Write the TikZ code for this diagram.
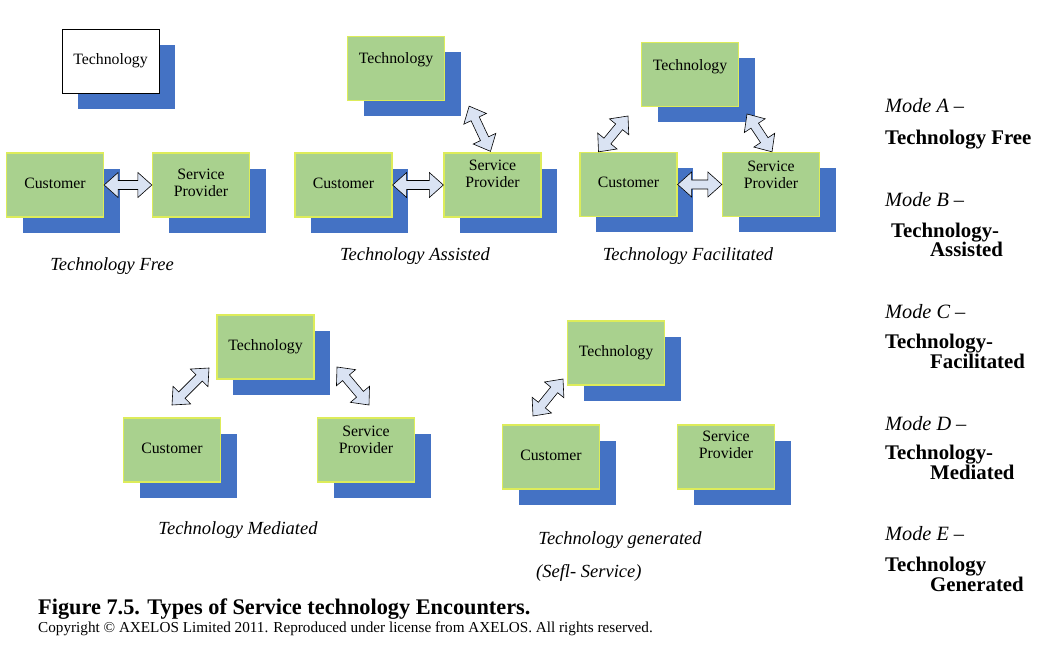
\documentclass[tikz,border=0pt]{standalone}
\usepackage{fontspec}
\setmainfont{Liberation Serif}
\usetikzlibrary{calc,shadows}
\definecolor{boxgreen}{RGB}{169,209,142}
\definecolor{boxedge}{RGB}{221,236,90}
\definecolor{shadowblue}{RGB}{68,114,196}
\definecolor{arrowfill}{RGB}{218,227,243}
\newcommand\boxlbl[2]{\raisebox{#1}[\height][\depth]{\begin{tabular}{@{}c@{}}#2\end{tabular}}}
\newcommand\twolines[3]{\vbox{\lineskiplimit=-20pt\baselineskip=19.6pt\hbox{#2}\hbox{\kern#1#3}}}
\newcommand\dblblock[2]{%
  \coordinate (dbP) at ($(#1)!14pt!(#2)$);
  \coordinate (dbQ) at ($(#2)!14pt!(#1)$);
  \filldraw[blockarrow] (#1) -- ($(dbP)!12.5pt!90:(#2)$) -- ($(dbP)!4.5pt!90:(#2)$)
    -- ($(dbQ)!4.5pt!-90:(#1)$) -- ($(dbQ)!12.5pt!-90:(#1)$) -- (#2)
    -- ($(dbQ)!12.5pt!90:(#1)$) -- ($(dbQ)!4.5pt!90:(#1)$)
    -- ($(dbP)!4.5pt!-90:(#2)$) -- ($(dbP)!12.5pt!-90:(#2)$) -- cycle;}
\tikzset{
  basebox/.style={minimum width=97pt, minimum height=64pt, inner sep=0pt,
    font=\fontsize{15.8}{17}\selectfont,
    general shadow={fill=shadowblue, shadow xshift=16pt, shadow yshift=-16pt}},
  gbox/.style={basebox, draw=boxedge, line width=1.3pt, fill=boxgreen},
  wbox/.style={basebox, draw=black, line width=0.8pt, fill=white},
  blockarrow/.style={fill=arrowfill, draw=black, line width=0.6pt, line join=miter},
  caption/.style={inner sep=0pt, font=\fontsize{18.5}{20}\selectfont\itshape},
  modeit/.style={anchor=base west, inner sep=0pt, font=\fontsize{20.3}{22}\selectfont\itshape},
  modebf/.style={anchor=base west, inner sep=0pt, font=\fontsize{20.8}{22}\selectfont\bfseries},
}
\begin{document}
\begin{tikzpicture}[x=1pt,y=-1pt]
\useasboundingbox (0,0) rectangle (1046,668);
% ---- Mode A
\node[wbox] (techA) at (110.5,61.5) {\boxlbl{0pt}{Technology}};
\node[gbox] (custA) at (55,185) {\boxlbl{0pt}{Customer}};
\node[gbox] (spA) at (201,185) {\boxlbl{0pt}{Service\\Provider}};
\dblblock{custA.east}{spA.west}
\node[caption] (capA) at (112,266) {Technology Free};
% ---- Mode B
\node[gbox] (techB) at (396,68.5) {\boxlbl{8pt}{Technology}};
\node[gbox] (custB) at (343.5,185) {\boxlbl{0pt}{Customer}};
\node[gbox] (spB) at (492.5,185) {\boxlbl{9pt}{Service\\Provider}};
\dblblock{custB.east}{spB.west}
\coordinate (bT) at ($(techB.south east)+(24,5)$);
\coordinate (bS) at ($(spB.north)+(-2,-1)$);
\dblblock{bT}{bS}
\node[caption] (capB) at (415,256) {Technology Assisted};
% ---- Mode C
\node[gbox] (techC) at (690,74.5) {\boxlbl{7pt}{Technology}};
\node[gbox] (custC) at (628.5,184.5) {\boxlbl{0pt}{Customer}};
\node[gbox] (spC) at (771,184.5) {\boxlbl{8pt}{Service\\Provider}};
\dblblock{custC.east}{spC.west}
\coordinate (cC) at ($(custC.north)+(-30,0)$);
\coordinate (cT1) at (628,116);
\dblblock{cC}{cT1}
\coordinate (cT2) at (747,114);
\coordinate (cS) at ($(spC.north)+(1,0)$);
\dblblock{cT2}{cS}
\node[caption] (capC) at (688,256) {Technology Facilitated};
% ---- Mode D
\node[gbox] (techD) at (265.5,347) {\boxlbl{0pt}{Technology}};
\node[gbox] (custD) at (172,450) {\boxlbl{0pt}{Customer}};
\node[gbox] (spD) at (366,450) {\boxlbl{8pt}{Service\\Provider}};
\coordinate (dC) at (172,405);
\coordinate (dT1) at (209,368);
\dblblock{dC}{dT1}
\coordinate (dT2) at (337,367);
\coordinate (dS) at (369,405);
\dblblock{dT2}{dS}
\node[caption] (capD) at (238,530) {Technology Mediated};
% ---- Mode E
\node[gbox] (techE) at (616,353) {\boxlbl{0pt}{Technology}};
\node[gbox] (custE) at (551,457) {\boxlbl{0pt}{Customer}};
\node[gbox] (spE) at (726,457) {\boxlbl{10pt}{Service\\Provider}};
\coordinate (eC) at (533,416);
\coordinate (eT) at (563,379);
\dblblock{eC}{eT}
\node[caption] (capE) at (620,540) {Technology generated};
\node[caption, anchor=west] (capE2) at (536,573) {(Sefl- Service)};
% ---- Mode list
\node[modeit] (mA) at (885,113) {Mode A –};
\node[modebf] (mA2) at (885,145) {Technology Free};
\node[modeit] (mB) at (885,207) {Mode B –};
\node[modebf] (mB2) at (891,257) {\twolines{39pt}{Technology-}{Assisted}};
\node[modeit] (mC) at (885,318) {Mode C –};
\node[modebf] (mC2) at (885,368.5) {\twolines{45pt}{Technology-}{Facilitated}};
\node[modeit] (mD) at (885,430) {Mode D –};
\node[modebf] (mD2) at (885,479.5) {\twolines{45pt}{Technology-}{Mediated}};
\node[modeit] (mE) at (885,540) {Mode E –};
\node[modebf] (mE2) at (885,591.5) {\twolines{45pt}{Technology}{Generated}};
% ---- Caption
\node[anchor=base west, inner sep=0pt, font=\fontsize{22.3}{24}\selectfont\bfseries] (title) at (38,614) {Figure 7.5. Types of Service technology Encounters.};
\node[anchor=base west, inner sep=0pt, font=\fontsize{15.2}{16}\selectfont] (copy) at (38,632) {Copyright © AXELOS Limited 2011. Reproduced under license from AXELOS. All rights reserved.};
\end{tikzpicture}
\end{document}
